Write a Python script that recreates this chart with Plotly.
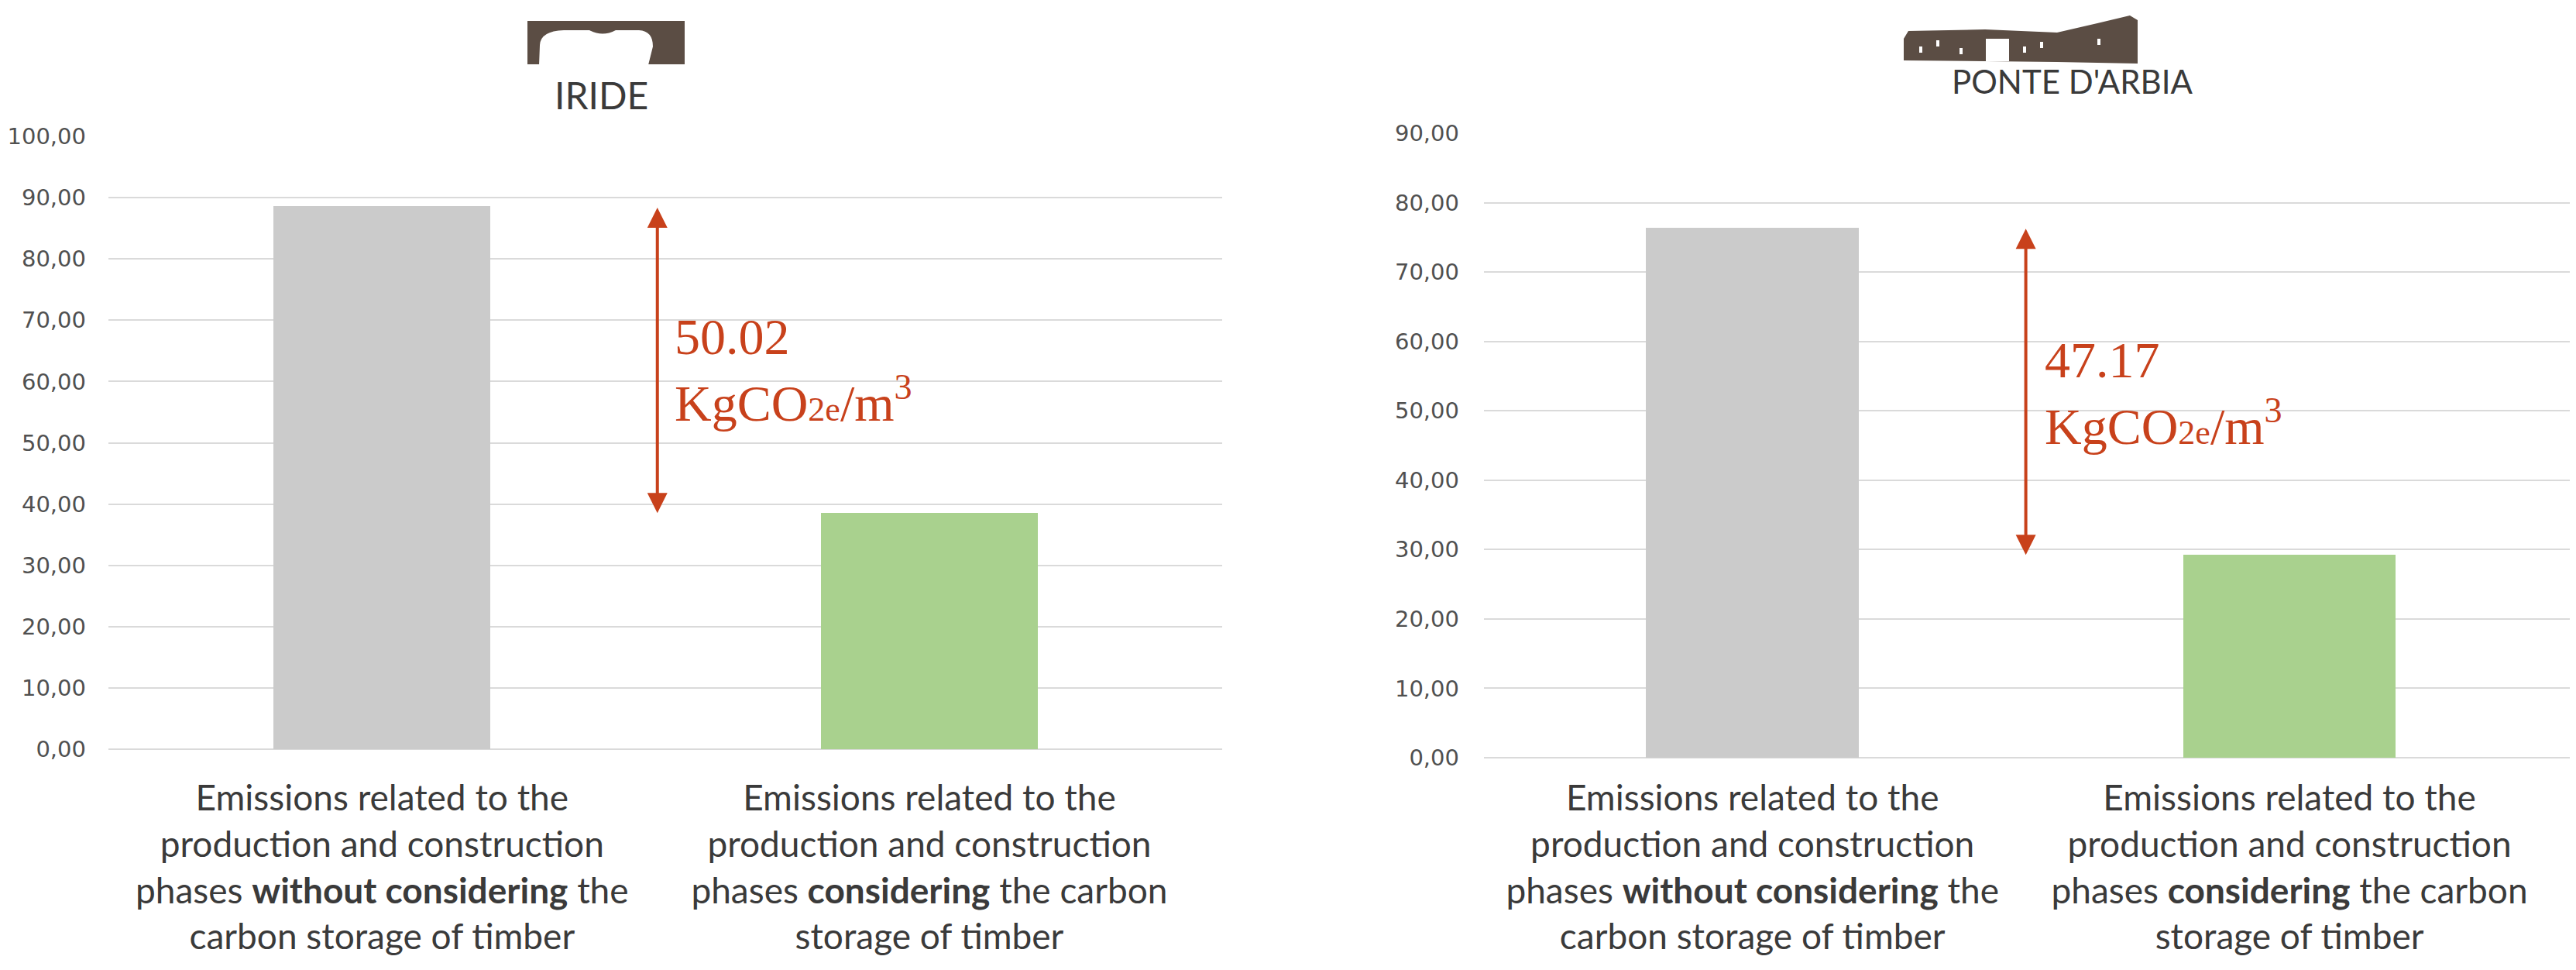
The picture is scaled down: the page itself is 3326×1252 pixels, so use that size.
import plotly.graph_objects as go

# ---------------- data ----------------
projects = ["IRIDE", "PONTE D'ARBIA"]
categories = ["without", "with"]
category_labels = [
    "Emissions related to the<br>production and construction<br>phases <b>without considering</b> the<br>carbon storage of timber",
    "Emissions related to the<br>production and construction<br>phases <b>considering</b> the carbon<br>storage of timber",
]
iride_values = [88.56, 38.54]
ponte_values = [76.40, 29.23]
savings = [50.02, 47.17]
iride_ticks = [0, 10, 20, 30, 40, 50, 60, 70, 80, 90, 100]
ponte_ticks = [0, 10, 20, 30, 40, 50, 60, 70, 80, 90]
bar_colors = ["#CBCBCB", "#A9D18E"]

W, H = 3326, 1252
RED = "#C8411B"
BROWN = "#5B4D44"


def px(x):
    return x / W


def py(y):
    return 1 - y / H


fig = go.Figure()
fig.add_trace(go.Bar(x=categories, y=iride_values, marker=dict(color=bar_colors, line=dict(width=0)),
                     width=0.396, xaxis="x", yaxis="y", showlegend=False, hoverinfo="skip"))
fig.add_trace(go.Bar(x=categories, y=ponte_values, marker=dict(color=bar_colors, line=dict(width=0)),
                     width=0.396, xaxis="x2", yaxis="y2", showlegend=False, hoverinfo="skip"))

cat_font = dict(family="Lato", size=46, color="#3A3A3A")
tick_font = dict(family="DejaVu Sans", size=29, color="#505050")

common_x = dict(type="category", categoryorder="array", categoryarray=categories,
                tickmode="array", tickvals=categories, ticktext=category_labels,
                tickfont=cat_font, showgrid=False, zeroline=False, showline=False,
                ticks="", range=[-0.5, 1.535], automargin=False, fixedrange=True)
common_y = dict(tickmode="array", tickformat=".2f", tickfont=tick_font,
                showgrid=True, gridcolor="#DADADA", gridwidth=2,
                zeroline=True, zerolinecolor="#DADADA", zerolinewidth=2,
                showline=False, ticks="", automargin=False, fixedrange=True)

fig.update_layout(
    width=W, height=H,
    margin=dict(l=0, r=0, t=0, b=0),
    paper_bgcolor="white", plot_bgcolor="white",
    separators=",.",
    bargap=0,
    xaxis=dict(common_x, domain=[px(132), px(1570)], anchor="y", ticklabelstandoff=32),
    yaxis=dict(common_y, domain=[py(959), py(168)], anchor="x", range=[0, 100],
               tickvals=iride_ticks, ticklabelstandoff=28),
    xaxis2=dict(common_x, domain=[px(1908), px(3319)], anchor="y2", ticklabelstandoff=21),
    yaxis2=dict(common_y, domain=[py(970), py(164)], anchor="x2", range=[0, 90],
                tickvals=ponte_ticks, ticklabelstandoff=31),
)

# arrows + difference labels
panels = [("x", "y", iride_values, savings[0], 0.503, 0.532, 61.9),
          ("x2", "y2", ponte_values, savings[1], 0.509, 0.542, 52.5)]
for xr, yr, vals, diff, ax_x, tx, ty in panels:
    fig.add_annotation(x=ax_x, y=vals[1], ax=ax_x, ay=vals[0], xref=xr, yref=yr,
                       axref=xr, ayref=yr, text="", showarrow=True,
                       arrowhead=2, startarrowhead=2, arrowside="end+start",
                       arrowsize=1.3, startarrowsize=1.3, arrowwidth=4, arrowcolor=RED,
                       standoff=0, startstandoff=0)
    fig.add_annotation(x=tx, y=ty, xref=xr, yref=yr, xanchor="left", yanchor="middle",
                       align="left", showarrow=False,
                       text=f"{diff:.2f}<br>KgCO<span style='font-size:44px'>2e</span>/m<sup>3</sup>",
                       font=dict(family="Liberation Serif", size=66, color=RED))

# project titles
fig.add_annotation(x=px(768), y=py(114), xref="paper", yref="paper", text=projects[0],
                   showarrow=False, xanchor="center", yanchor="middle",
                   font=dict(family="Lato", size=48, color="#3A3A3A"))
fig.add_annotation(x=px(2668), y=py(97), xref="paper", yref="paper", text=projects[1],
                   showarrow=False, xanchor="center", yanchor="middle",
                   font=dict(family="Lato", size=42, color="#3A3A3A"))


def path(points, close=True):
    s = ""
    for cmd, pts in points:
        s += cmd + " " + " ".join(f"{px(a):.5f},{py(b):.5f}" for a, b in pts) + " "
    return s + ("Z" if close else "")


# IRIDE logo: brown block with arched opening
fig.add_shape(type="rect", xref="paper", yref="paper", x0=px(673), x1=px(876),
              y0=py(75), y1=py(19), fillcolor=BROWN, line=dict(width=0), layer="above")
arch = [("M", [(688, 76)]), ("L", [(689, 50)]), ("Q", [(690, 32), (720, 31)]),
        ("L", [(753, 31)]), ("Q", [(770, 40), (787, 31)]), ("L", [(817, 31)]),
        ("Q", [(835, 32), (835, 52)]), ("L", [(829, 76)])]
fig.add_shape(type="path", xref="paper", yref="paper", path=path(arch),
              fillcolor="white", line=dict(width=0), layer="above")

# PONTE D'ARBIA logo: building silhouette
bld_pts = [(2450, 42), (2456, 32), (2555, 30), (2648, 34), (2700, 22),
           (2742, 12), (2752, 18), (2752, 74), (2648, 72), (2450, 70)]
bld = [("M", [bld_pts[0]])] + [("L", [p]) for p in bld_pts[1:]]
fig.add_shape(type="path", xref="paper", yref="paper", path=path(bld),
              fillcolor=BROWN, line=dict(width=0), layer="above")
fig.add_shape(type="rect", xref="paper", yref="paper", x0=px(2556), x1=px(2586),
              y0=py(71), y1=py(42), fillcolor="white", line=dict(width=0), layer="above")
for wx, wy in [(2470, 52), (2492, 44), (2522, 54), (2604, 52), (2626, 46), (2700, 42)]:
    fig.add_shape(type="rect", xref="paper", yref="paper", x0=px(wx), x1=px(wx + 4),
                  y0=py(wy + 8), y1=py(wy), fillcolor="white", line=dict(width=0), layer="above")

fig.write_html("out.html")
